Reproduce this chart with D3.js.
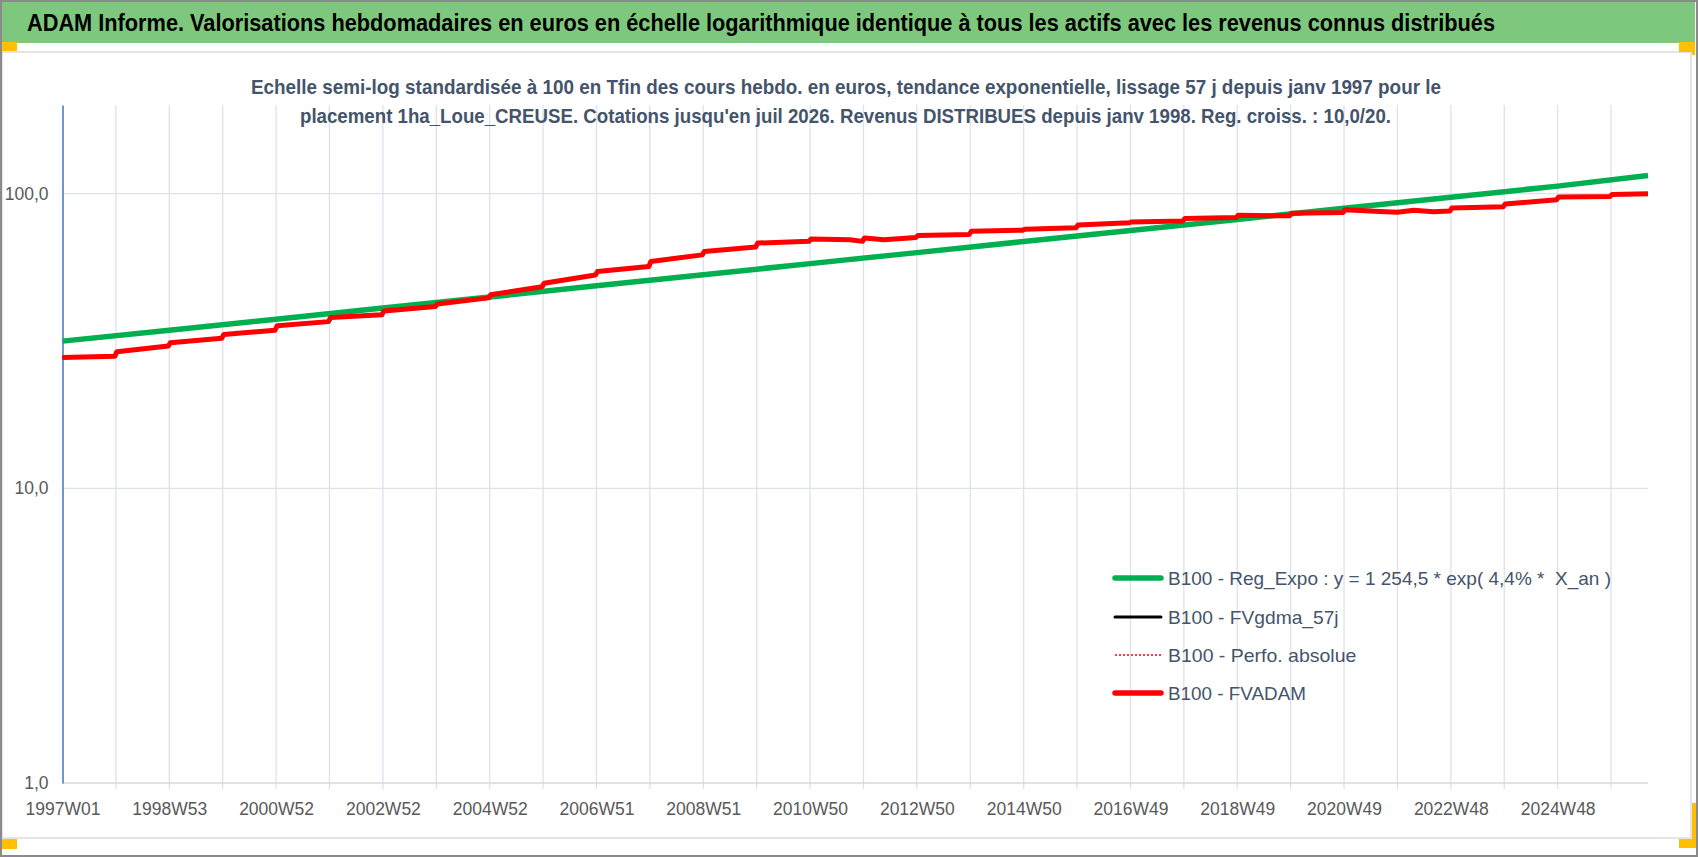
<!DOCTYPE html>
<html><head><meta charset="utf-8">
<script src="https://cdn.jsdelivr.net/npm/d3@7"></script>
<style>
body{margin:0;background:#fff;}
svg{display:block;}
text{white-space:pre;}
</style></head><body>
<svg id="c" width="1698" height="857"></svg>
<script>
// ---------- data ----------
const titleText = "ADAM Informe. Valorisations hebdomadaires en euros en échelle logarithmique identique à tous les actifs avec les revenus connus distribués";
const subtitleLines = [
  "Echelle semi-log standardisée à 100 en Tfin des cours hebdo. en euros, tendance exponentielle, lissage 57 j depuis janv 1997 pour le",
  "placement 1ha_Loue_CREUSE. Cotations jusqu'en juil 2026. Revenus DISTRIBUES depuis janv 1998. Reg. croiss. : 10,0/20."
];
const xTickLabels = ["1997W01","1998W53","2000W52","2002W52","2004W52","2006W51","2008W51","2010W50","2012W50","2014W50","2016W49","2018W49","2020W49","2022W48","2024W48"];
const xTickWeeks  = [0,104,208,312,416,520,624,728,832,936,1040,1144,1248,1352,1456];
const gridWeeks   = [0,52,104,156,208,260,312,364,416,468,520,572,624,676,728,780,832,884,936,988,1040,1092,1144,1196,1248,1300,1352,1404,1456,1508];
const lastWeek = 1544;
const yTicks = [1, 10, 100];
const yMin = 1, yMax = 200;

const legendNames = [
  "B100 - Reg_Expo : y = 1 254,5 * exp( 4,4% *  X_an )",
  "B100 - FVgdma_57j",
  "B100 - Perfo. absolue",
  "B100 - FVADAM"
];

// regression (green) read at the 2-year ticks and at the end
const regWeeks = [0,104,208,312,416,520,624,728,832,936,1040,1144,1248,1352,1456,1544];
const regExpo  = [31.6,34.4,37.5,40.9,44.6,48.7,53.1,57.9,63.1,68.8,75.0,81.8,89.2,97.3,106.1,115.3];

// FVADAM (red), with the yearly steps
const fvWeeks = [0,51,53,103,105,155,157,207,209,259,261,311,313,363,365,415,417,467,469,519,521,571,573,623,625,675,677,727,729,767,779,781,800,831,833,883,885,935,937,987,989,1039,1041,1091,1093,1143,1145,1195,1197,1247,1249,1283,1300,1316,1335,1351,1353,1403,1405,1455,1457,1507,1509,1544];
const fvadam  = [27.8,28.1,29.1,30.4,31.2,32.3,33.3,34.4,35.6,36.8,38.0,38.8,40.0,41.4,42.2,44.3,45.4,48.3,49.7,53.0,54.4,56.6,58.9,62.0,63.6,65.9,68.0,68.9,70.2,69.8,68.9,70.7,69.8,71.0,72.1,72.7,74.6,75.2,75.8,76.6,78.3,79.7,80.2,80.8,82.4,83.0,84.5,84.1,85.9,86.4,88.2,87.0,86.5,87.8,86.8,87.3,89.4,90.3,92.3,95.4,97.4,97.9,99.4,100];
// FVgdma_57j and Perfo. absolue lie under FVADAM in the picture (same readings)
const fvgdma57 = fvadam;
const perfoAbs = fvadam;

// ---------- drawing ----------
const svg = d3.select("#c");
const W = 1698, H = 857;
const plot = {left: 62.5, right: 1648, top: 105, bottom: 783};

const x = d3.scaleLinear().domain([0, lastWeek]).range([plot.left, plot.right]);
const y = d3.scaleLog().domain([yMin, yMax]).range([plot.bottom, plot.top]);

// frame
svg.append("rect").attr("x",0).attr("y",0).attr("width",W).attr("height",H).attr("fill","#fff");
svg.append("rect").attr("x",2).attr("y",2).attr("width",1693).attr("height",41).attr("fill","#7ec87e");
svg.append("rect").attr("x",2).attr("y",52).attr("width",1689).attr("height",786)
   .attr("fill","#fff").attr("stroke","#dcdcdc").attr("stroke-width",1.5);
svg.append("rect").attr("x",1).attr("y",1).attr("width",W-2).attr("height",H-2)
   .attr("fill","none").attr("stroke","#8a8a8a").attr("stroke-width",2);

// yellow corner handles
const yel = "#ffc000";
svg.append("rect").attr("x",2).attr("y",42).attr("width",15).attr("height",9).attr("fill",yel);
svg.append("rect").attr("x",2).attr("y",839).attr("width",15).attr("height",10).attr("fill",yel);
svg.append("rect").attr("x",1679).attr("y",42).attr("width",16).attr("height",10).attr("fill",yel);
svg.append("rect").attr("x",1692).attr("y",42).attr("width",3).attr("height",13).attr("fill",yel);
svg.append("rect").attr("x",1679).attr("y",839).attr("width",17).attr("height",9).attr("fill",yel);
svg.append("rect").attr("x",1692).attr("y",803).attr("width",4).attr("height",45).attr("fill",yel);

// gridlines
const g = svg.append("g");
g.selectAll("line.vg").data(gridWeeks.filter(d=>d>0)).join("line")
  .attr("x1",d=>x(d)).attr("x2",d=>x(d)).attr("y1",plot.top).attr("y2",plot.bottom+6)
  .attr("stroke","#dde2ea").attr("stroke-width",1.3);
g.selectAll("line.hg").data(yTicks.filter(d=>d>yMin)).join("line")
  .attr("x1",plot.left).attr("x2",plot.right).attr("y1",d=>y(d)).attr("y2",d=>y(d))
  .attr("stroke","#dde2ea").attr("stroke-width",1.3);
// x axis line
g.append("line").attr("x1",plot.left).attr("x2",plot.right).attr("y1",plot.bottom).attr("y2",plot.bottom)
  .attr("stroke","#d9d9d9").attr("stroke-width",1.5);

// title
svg.append("text").attr("x",27).attr("y",31)
  .attr("font-family","'Liberation Sans Narrow', 'Liberation Sans', sans-serif")
  .attr("font-weight","bold").attr("font-size",23).attr("fill","#000")
  .attr("textLength",1468).attr("lengthAdjust","spacingAndGlyphs")
  .text(titleText);

// subtitle (drawn over gridlines)
const subX = [251, 300], subY = [94, 122.5], subW = [1190, 1091];
subtitleLines.forEach((s,i)=>{
  svg.append("text").attr("x",subX[i]).attr("y",subY[i])
    .attr("font-family","'Liberation Sans Narrow', 'Liberation Sans', sans-serif")
    .attr("font-weight","bold").attr("font-size",20.5).attr("fill","#44546a")
    .attr("textLength",subW[i]).attr("lengthAdjust","spacingAndGlyphs")
    .text(s);
});

// x axis labels
const xAxis = d3.axisBottom(x).tickValues(xTickWeeks).tickFormat((d,i)=>xTickLabels[i]).tickSize(0).tickPadding(20);
const xg = svg.append("g").attr("transform",`translate(0,${plot.bottom})`).call(xAxis);
xg.select(".domain").remove();
xg.selectAll("text").attr("font-family","'Liberation Sans Narrow', sans-serif").attr("font-size",17.5).attr("fill","#595959");

// y axis
const fr = d3.formatLocale({decimal:",", thousands:" ", grouping:[3], currency:["","€"]});
const yAxis = d3.axisLeft(y).tickValues(yTicks).tickFormat(fr.format(".1f")).tickSize(0).tickPadding(14);
const yg = svg.append("g").attr("transform",`translate(${plot.left},0)`).call(yAxis);
yg.select(".domain").attr("stroke","#4472c4").attr("stroke-width",1.5);
yg.selectAll("text").attr("font-family","'Liberation Sans Narrow', sans-serif").attr("font-size",17.5).attr("fill","#595959");

// series
const lineFn = (ws, vs) => d3.line().x((d,i)=>x(ws[i])).y((d)=>y(d))(vs);
svg.append("path").attr("d", lineFn(regWeeks, regExpo)).attr("fill","none")
  .attr("stroke","#00b050").attr("stroke-width",5.5).attr("stroke-linejoin","round");
svg.append("path").attr("d", lineFn(fvWeeks, fvgdma57)).attr("fill","none")
  .attr("stroke","#000").attr("stroke-width",2.5);
svg.append("path").attr("d", lineFn(fvWeeks, perfoAbs)).attr("fill","none")
  .attr("stroke","#ff0000").attr("stroke-width",1.5).attr("stroke-dasharray","2,2");
svg.append("path").attr("d", lineFn(fvWeeks, fvadam)).attr("fill","none")
  .attr("stroke","#ff0000").attr("stroke-width",5).attr("stroke-linejoin","round");

// legend
const legY = [578, 617, 655, 693];
const legW = [443, 170.6, 188.3, 138];
const legStyle = [
  {c:"#00b050", w:5.5, dash:null},
  {c:"#000000", w:3, dash:null},
  {c:"#ff0000", w:1.5, dash:"2,2"},
  {c:"#ff0000", w:5.5, dash:null}
];
const lg = svg.append("g");
legendNames.forEach((nm,i)=>{
  const ln = lg.append("line").attr("x1",1115).attr("x2",1161).attr("y1",legY[i]).attr("y2",legY[i])
    .attr("stroke",legStyle[i].c).attr("stroke-width",legStyle[i].w);
  if (legStyle[i].dash) ln.attr("stroke-dasharray",legStyle[i].dash);
  else ln.attr("stroke-linecap","round");
  lg.append("text").attr("x",1168).attr("y",legY[i]+7)
    .attr("font-family","'Liberation Sans', sans-serif").attr("font-size",18.5).attr("fill","#44546a")
    .attr("textLength",legW[i]).attr("lengthAdjust","spacingAndGlyphs")
    .text(nm);
});
</script>
</body></html>
